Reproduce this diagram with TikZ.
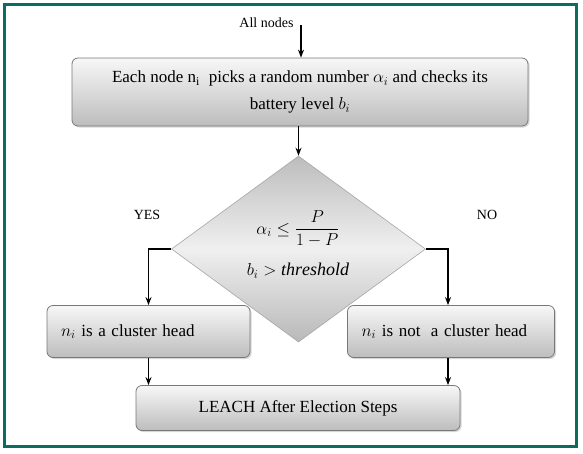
\documentclass[tikz,border=0pt]{standalone}
\usepackage{amsmath}
\usepackage{fontspec}
\setmainfont{Liberation Serif}
\usetikzlibrary{shapes.geometric,shadows,arrows.meta}
\definecolor{frameteal}{RGB}{14,107,94}
\definecolor{boxedge}{RGB}{120,120,120}
\tikzset{
  stepbox/.style={draw=boxedge, line width=0.8pt, rounded corners=6pt,
    top color=gray!6, bottom color=gray!52, inner sep=2pt,
    drop shadow={shadow xshift=1.5pt, shadow yshift=-1.5pt, fill=gray!45, opacity=0.7},
    font=\fontsize{17}{27}\selectfont, align=center},
  decbox/.style={diamond, draw=gray!70, line width=0.6pt, inner sep=0pt,
    minimum width=254pt, minimum height=186pt,
    top color=gray!52, bottom color=gray!55, middle color=gray!12},
  condtext/.style={font=\fontsize{18}{22}\selectfont},
  flow/.style={-{Stealth[length=8pt,width=6pt]}, line width=1.3pt},
  lbl/.style={font=\fontsize{14}{17}\selectfont}
}
\begin{document}
\begin{tikzpicture}[x=1pt,y=-1pt]
\useasboundingbox (0,0) rectangle (583,453);
\draw[frameteal, line width=3pt] (4.5,4.5) rectangle (576.5,446.5);

\node[lbl, anchor=east] (all) at (297,23) {All nodes};
\coordinate (astart) at (301,25);

\node[stepbox, minimum width=456pt, minimum height=68pt] (pick) at (300,92)
  {Each node n\textsubscript{i}\; picks a random number $\alpha_i$ and checks its\\ battery level $b_i$};

\node[decbox] (dec) at (298.5,249) {};
\node[condtext] (cond1) at (298,229) {$\alpha_i \le \dfrac{P}{1-P}$};
\node[condtext] (cond2) at (298,271) {$b_i > \mathit{threshold}$};

\node[stepbox, minimum width=203pt, minimum height=52pt, align=left, text width=175pt] (yes) at (148.5,331.5)
  {$n_i$ is a cluster head};
\node[stepbox, minimum width=207pt, minimum height=52pt, align=left, text width=179pt] (no) at (451,331.5)
  {$n_i$ is not\; a cluster head};

\node[stepbox, minimum width=324pt, minimum height=45pt] (leach) at (298,408)
  {LEACH After Election Steps};

\node[lbl] (yeslbl) at (147,215) {YES};
\node[lbl] (nolbl) at (487,215) {NO};

\draw[flow] (astart) -- (pick.north -| astart);
\draw[flow] (pick.south -| dec.north) -- (dec.north);
\draw[flow] (dec.west) -| (yes.north);
\draw[flow] (dec.east) -| ([xshift=-3pt]no.north);
\draw[flow] (yes.south) -- (yes.south |- leach.north);
\draw[flow] ([xshift=-3pt]no.south) -- ([xshift=-3pt]no.south |- leach.north);
\end{tikzpicture}
\end{document}
